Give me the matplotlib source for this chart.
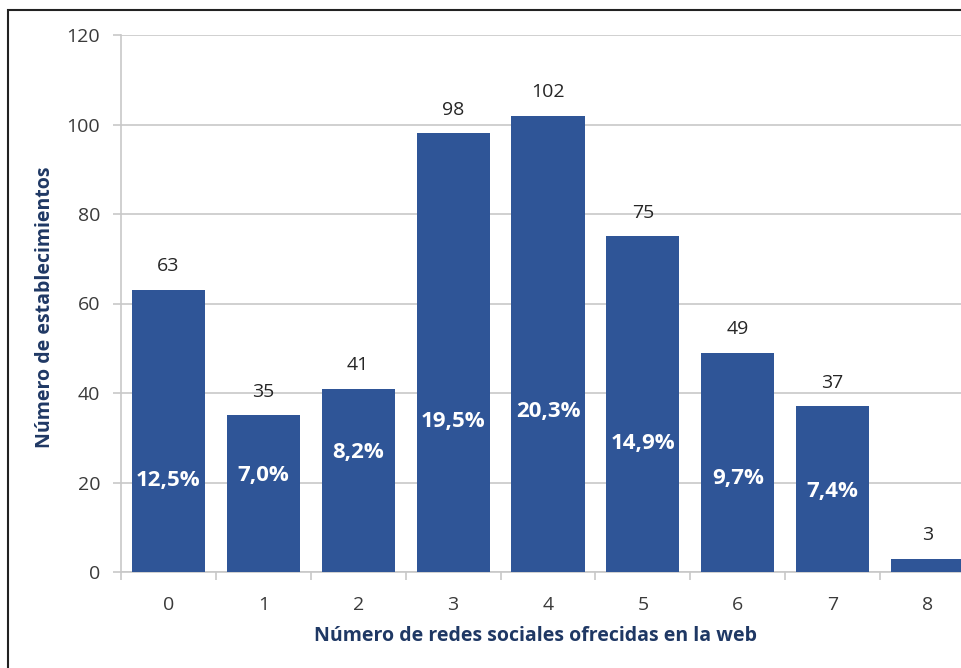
import matplotlib.pyplot as plt
from matplotlib.patches import Rectangle

categories = ["0", "1", "2", "3", "4", "5", "6", "7", "8"]
counts = [63, 35, 41, 98, 102, 75, 49, 37, 3]
pct_labels = ["12,5%", "7,0%", "8,2%", "19,5%", "20,3%", "14,9%", "9,7%", "7,4%", ""]
# where the percentage labels sit inside each bar (data units)
pct_label_y = [20.5, 21.6, 26.6, 33.7, 35.8, 28.8, 20.8, 18.1, 0]

plt.rcParams['font.family'] = ['Open Sans', 'DejaVu Sans']

bar_color = "#2F5597"
navy = "#1F3864"
tick_color = "#3A3A3A"
grid_color = "#C8C8C8"

fig = plt.figure(figsize=(9.62, 6.68), dpi=100)
ax = fig.add_axes([121 / 962, 1 - 572 / 668, (975 - 121) / 962, (572 - 35) / 668])

x = list(range(len(categories)))
bars = ax.bar(x, counts, width=0.77, color=bar_color, zorder=3)

ax.set_xlim(-0.5, len(categories) - 0.5)
ax.set_ylim(0, 120)
ax.set_yticks(range(0, 121, 20))
ax.set_xticks(x)
ax.set_xticklabels(categories)
ax.set_xticks([i + 0.5 for i in range(-1, len(categories))], minor=True)

ax.grid(axis='y', color=grid_color, linewidth=1.2, zorder=0)
for s in ['top', 'right']:
    ax.spines[s].set_visible(False)
for s in ['left', 'bottom']:
    ax.spines[s].set_color(grid_color)
    ax.spines[s].set_linewidth(1.2)

ax.tick_params(axis='x', which='major', length=0, pad=17, labelsize=14, labelcolor=tick_color)
ax.tick_params(axis='x', which='minor', length=6, color=grid_color, width=1.2)
ax.tick_params(axis='y', length=6, color=grid_color, width=1.2, pad=9,
               labelsize=14, labelcolor=tick_color)

for xi, v in zip(x, counts):
    ax.annotate(str(v), (xi, v), xytext=(0, 17), textcoords='offset points',
                ha='center', va='center', fontsize=14, color="#262626")

for xi, lab, ly in zip(x, pct_labels, pct_label_y):
    if lab:
        ax.text(xi, ly, lab, ha='center', va='center', fontsize=16,
                fontweight='bold', color='white', zorder=4)

ax.set_ylabel("Número de establecimientos", fontsize=14, fontweight='bold', color=navy)
ax.yaxis.set_label_coords((45 - 121) / (975 - 121), (572 - 307) / (572 - 35))
ax.set_xlabel("Número de redes sociales ofrecidas en la web", fontsize=14, fontweight='bold',
              color=navy)
ax.xaxis.set_label_coords((536 - 121) / (975 - 121), -(636 - 572) / (572 - 35))
ax.xaxis.label.set_va('center')
ax.yaxis.label.set_va('center')

# frame around the chart
fig.patches.append(Rectangle((8 / 962, -0.05), 1.2, 1 - 10 / 668 + 0.05, transform=fig.transFigure,
                             fill=False, edgecolor="#222222", linewidth=1.5))

fig.savefig("out.png", dpi=100)
